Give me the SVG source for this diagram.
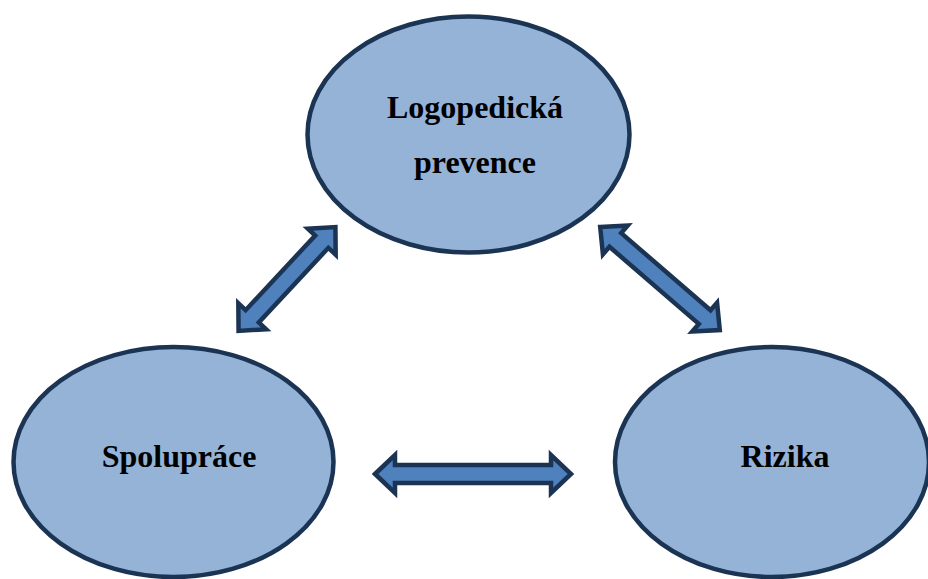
<svg xmlns="http://www.w3.org/2000/svg" width="928" height="579" viewBox="0 0 928 579">
<defs>
<style>
.node{fill:#95B3D7;stroke:#1C3454;stroke-width:4.5}
.lbl{font-family:"Liberation Serif","Times New Roman",serif;font-weight:bold;font-size:32px;fill:#000;text-anchor:middle}
.arr{fill:#4F81BD;stroke:#1C3454;stroke-width:4.5;stroke-linejoin:miter}
</style>
</defs>
<rect width="928" height="579" fill="#fff"/>
<g id="node-logopedicka">
<ellipse class="node" cx="468.5" cy="134.5" rx="161" ry="118"/>
<text class="lbl" x="475" y="118">Logopedická</text>
<text class="lbl" x="475" y="173">prevence</text>
</g>
<g id="node-spoluprace">
<ellipse class="node" cx="173.5" cy="462" rx="160" ry="115"/>
<text class="lbl" x="179" y="467">Spolupráce</text>
</g>
<g id="node-rizika">
<ellipse class="node" cx="772" cy="462" rx="157" ry="115"/>
<text class="lbl" x="785" y="467">Rizika</text>
</g>
<g id="connectors">
<polygon class="arr" transform="translate(473 474)" points="-98,0 -78,-19 -78,-9 78,-9 78,-19 98,0 78,19 78,9 -78,9 -78,19"/>
<polygon class="arr" transform="translate(287 279) rotate(-47)" points="-71,0 -51,-19 -51,-9 51,-9 51,-19 71,0 51,19 51,9 -51,9 -51,19"/>
<polygon class="arr" transform="translate(660 278.5) rotate(40.8)" points="-79,0 -59,-19 -59,-9 59,-9 59,-19 79,0 59,19 59,9 -59,9 -59,19"/>
</g>
</svg>
